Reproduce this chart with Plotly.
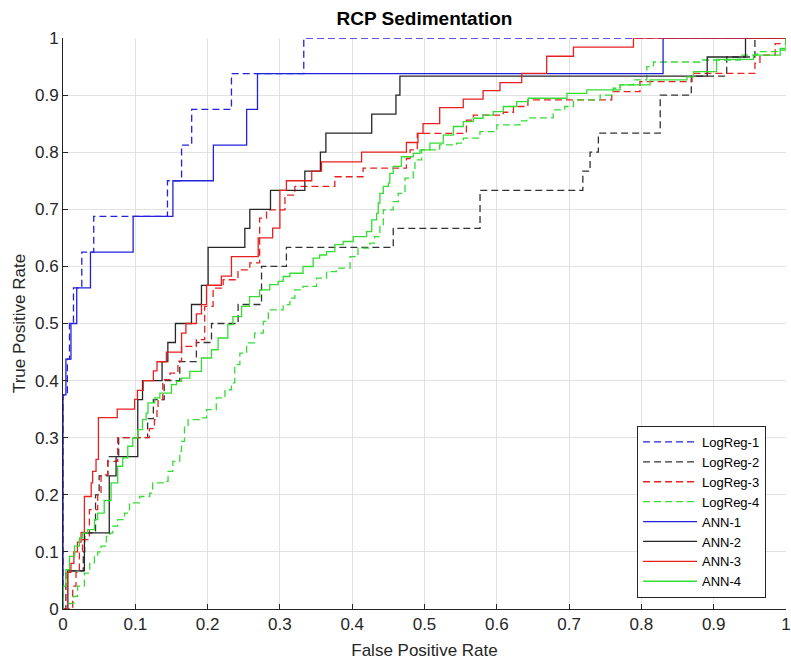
import plotly.graph_objects as go

# ---- data: ROC points (FPR, TPR), drawn as right-then-up staircases ----
logreg1_fpr = [0, 0, 0.006, 0.009, 0.0145, 0.026, 0.0425, 0.1445, 0.164, 0.178, 0.233, 0.333, 1]
logreg1_tpr = [0, 0.375, 0.4375, 0.5, 0.5625, 0.625, 0.6875, 0.75, 0.8125, 0.875, 0.9375, 1, 1]

logreg2_fpr = [0, 0.004, 0.028, 0.03, 0.045, 0.05, 0.062, 0.077, 0.117, 0.125, 0.14, 0.1615,
               0.1845, 0.2054, 0.2422, 0.2746, 0.309, 0.4568, 0.5768, 0.719, 0.729, 0.7405,
               0.826, 0.869, 0.918, 0.957, 1]
logreg2_tpr = [0, 0.0667, 0.1, 0.1333, 0.2, 0.2333, 0.2667, 0.3, 0.3333, 0.3667, 0.4, 0.4333,
               0.4667, 0.5, 0.5333, 0.6, 0.6333, 0.6667, 0.7333, 0.7667, 0.8, 0.8333,
               0.9, 0.9333, 0.9667, 1, 1]

logreg3_fpr = [0, 0.0134, 0.018, 0.0227, 0.027, 0.0365, 0.048, 0.0526, 0.062, 0.0757,
               0.1195, 0.1265, 0.13, 0.1315, 0.138, 0.148, 0.159, 0.164, 0.1845, 0.196,
               0.2076, 0.2215, 0.242, 0.2584, 0.272, 0.2815, 0.307, 0.3207, 0.376, 0.415,
               0.475, 0.48, 0.49, 0.558, 0.5675, 0.609, 0.623, 0.643, 0.759, 0.798,
               0.87, 0.957, 0.964, 0.985, 1]
logreg3_tpr = [0, 0.04, 0.064, 0.098, 0.1216, 0.174, 0.203, 0.235, 0.2586, 0.3,
               0.316, 0.3316, 0.349, 0.3666, 0.4016, 0.413, 0.434, 0.46, 0.4716, 0.53,
               0.562, 0.5766, 0.594, 0.606, 0.6845, 0.699, 0.725, 0.74, 0.757, 0.772,
               0.789, 0.804, 0.833, 0.856, 0.865, 0.87, 0.88, 0.8915, 0.906, 0.9236,
               0.938, 0.956, 0.97, 0.99, 1]

logreg4_fpr = [0, 0.003, 0.009, 0.015, 0.0203, 0.0296, 0.037, 0.0435, 0.048, 0.0526,
               0.06, 0.065, 0.0688, 0.0757, 0.085, 0.092, 0.106, 0.12, 0.124, 0.1408,
               0.1453, 0.152, 0.1615, 0.1639, 0.168, 0.173, 0.189, 0.1985, 0.212, 0.224,
               0.233, 0.2376, 0.2446, 0.254, 0.265, 0.277, 0.284, 0.3045, 0.3138, 0.3207,
               0.332, 0.3507, 0.3646, 0.378, 0.397, 0.408, 0.4245, 0.431, 0.4383, 0.443,
               0.4567, 0.4637, 0.473, 0.4844, 0.4868, 0.496, 0.521, 0.5445, 0.5536, 0.5767,
               0.6, 0.632, 0.6414, 0.678, 0.694, 0.706, 0.743, 0.761, 0.7705, 0.789,
               0.8075, 0.8166, 0.881, 0.9366, 0.96, 0.992, 1]
logreg4_tpr = [0, 0, 0.01, 0.022, 0.04, 0.063, 0.081, 0.092, 0.1, 0.11,
               0.127, 0.133, 0.145, 0.1566, 0.168, 0.186, 0.197, 0.203, 0.221, 0.2236,
               0.241, 0.2586, 0.276, 0.2936, 0.32, 0.3316, 0.3346, 0.349, 0.3696, 0.384,
               0.396, 0.428, 0.448, 0.466, 0.483, 0.5036, 0.524, 0.533, 0.5446, 0.559,
               0.565, 0.5795, 0.591, 0.597, 0.617, 0.632, 0.6407, 0.652, 0.67, 0.699,
               0.7136, 0.728, 0.7545, 0.769, 0.7865, 0.804, 0.8128, 0.8158, 0.8245, 0.836,
               0.8478, 0.855, 0.86, 0.874, 0.88, 0.8915, 0.9, 0.912, 0.918, 0.9265,
               0.95, 0.958, 0.9615, 0.97, 0.976, 0.982, 1]

ann1_fpr = [0, 0, 0.004, 0.011, 0.019, 0.038, 0.097, 0.152, 0.208, 0.254, 0.269, 0.83, 1]
ann1_tpr = [0, 0.375, 0.4375, 0.5, 0.5625, 0.625, 0.6875, 0.75, 0.8125, 0.875, 0.9375, 1, 1]

ann2_fpr = [0, 0.0065, 0.0296, 0.064, 0.0734, 0.1034, 0.11, 0.137, 0.145, 0.1555, 0.1777,
            0.1915, 0.2007, 0.2515, 0.2584, 0.287, 0.3345, 0.356, 0.3636, 0.427, 0.4605,
            0.466, 0.891, 0.944, 1]
ann2_tpr = [0, 0.0667, 0.1333, 0.2333, 0.2667, 0.3667, 0.4, 0.4333, 0.4667, 0.5, 0.5333,
            0.5667, 0.6333, 0.6667, 0.7, 0.7333, 0.7667, 0.8, 0.8333, 0.8667, 0.9,
            0.9333, 0.9667, 1, 1]

ann3_fpr = [0, 0.0065, 0.011, 0.015, 0.02, 0.025, 0.0296, 0.039, 0.041, 0.0457,
            0.049, 0.075, 0.099, 0.103, 0.111, 0.125, 0.13, 0.143, 0.164, 0.17,
            0.1845, 0.1915, 0.1985, 0.219, 0.233, 0.27, 0.29, 0.3, 0.309, 0.344,
            0.3576, 0.413, 0.475, 0.491, 0.498, 0.521, 0.5536, 0.581, 0.6044, 0.6345,
            0.669, 0.706, 0.789, 1]
ann3_tpr = [0, 0.064, 0.08, 0.1, 0.117, 0.134, 0.197, 0.221, 0.241, 0.262,
            0.335, 0.35, 0.367, 0.383, 0.4, 0.417, 0.433, 0.45, 0.483, 0.5,
            0.517, 0.533, 0.567, 0.583, 0.617, 0.65, 0.667, 0.733, 0.75, 0.767,
            0.783, 0.8, 0.817, 0.833, 0.85, 0.878, 0.893, 0.908, 0.922, 0.938,
            0.968, 0.984, 1, 1]

ann4_fpr = [0, 0, 0.004, 0.009, 0.016, 0.0227, 0.027, 0.034, 0.0435, 0.048,
            0.057, 0.0665, 0.0757, 0.0826, 0.0896, 0.0965, 0.1034, 0.11, 0.115, 0.1176,
            0.127, 0.134, 0.15, 0.157, 0.164, 0.1754, 0.1915, 0.1915, 0.2054, 0.2145,
            0.228, 0.235, 0.247, 0.258, 0.272, 0.286, 0.2976, 0.3045, 0.3138, 0.332,
            0.346, 0.355, 0.3646, 0.376, 0.3875, 0.4014, 0.42, 0.427, 0.4338, 0.436,
            0.4383, 0.443, 0.45, 0.452, 0.4567, 0.468, 0.4844, 0.4937, 0.5075, 0.526,
            0.54, 0.5536, 0.5675, 0.581, 0.595, 0.609, 0.6275, 0.6436, 0.697, 0.7245,
            0.7705, 0.812, 0.863, 0.872, 0.904, 0.955, 0.992, 1]
ann4_tpr = [0, 0.04, 0.069, 0.092, 0.11, 0.1246, 0.133, 0.139, 0.1566, 0.168,
            0.19, 0.221, 0.25, 0.2646, 0.285, 0.2995, 0.314, 0.3316, 0.343, 0.361,
            0.3696, 0.378, 0.393, 0.3986, 0.4045, 0.416, 0.422, 0.4396, 0.454, 0.4746,
            0.498, 0.512, 0.53, 0.547, 0.559, 0.568, 0.5736, 0.5823, 0.588, 0.5998,
            0.6145, 0.62, 0.626, 0.638, 0.6436, 0.652, 0.661, 0.6815, 0.693, 0.711,
            0.728, 0.74, 0.7458, 0.763, 0.775, 0.792, 0.798, 0.804, 0.8158, 0.83,
            0.845, 0.8536, 0.8595, 0.865, 0.871, 0.88, 0.8886, 0.8945, 0.903, 0.909,
            0.918, 0.9265, 0.932, 0.941, 0.9627, 0.97, 0.979, 1]

series_names = ["LogReg-1", "LogReg-2", "LogReg-3", "LogReg-4", "ANN-1", "ANN-2", "ANN-3", "ANN-4"]
series_data = [(logreg1_fpr, logreg1_tpr), (logreg2_fpr, logreg2_tpr),
               (logreg3_fpr, logreg3_tpr), (logreg4_fpr, logreg4_tpr),
               (ann1_fpr, ann1_tpr), (ann2_fpr, ann2_tpr),
               (ann3_fpr, ann3_tpr), (ann4_fpr, ann4_tpr)]
series_colors = ["#2222dd", "#333333", "#e82020", "#33dd33",
                 "#2222dd", "#262626", "#e82020", "#33dd33"]
series_dash = ["7px,4px"] * 4 + ["solid"] * 4

x_ticks = [0, 0.1, 0.2, 0.3, 0.4, 0.5, 0.6, 0.7, 0.8, 0.9, 1]
x_tick_labels = ["0", "0.1", "0.2", "0.3", "0.4", "0.5", "0.6", "0.7", "0.8", "0.9", "1"]

fig = go.Figure()
for name, (fx, ty), col, dsh in zip(series_names, series_data, series_colors, series_dash):
    fig.add_trace(go.Scatter(
        x=fx, y=ty, mode="lines", name=name, line_shape="hv",
        line=dict(color=col, width=1.3, dash=dsh),
    ))

FONT = "Liberation Sans, Arial, Helvetica, sans-serif"
axis_common = dict(
    range=[0, 1], tickvals=x_ticks, ticktext=x_tick_labels,
    showgrid=True, gridcolor="#e2e2e2", gridwidth=1,
    showline=True, linecolor="#262626", linewidth=1, mirror=False,
    ticks="inside", ticklen=5, tickcolor="#262626", tickwidth=1,
    zeroline=False, automargin=False,
    tickfont=dict(family=FONT, size=17, color="#262626"),
)
fig.update_layout(
    width=791, height=661,
    margin=dict(l=63, r=5, t=38, b=52, autoexpand=False),
    paper_bgcolor="white", plot_bgcolor="white",
    font=dict(family=FONT, color="#262626"),
    title=dict(text="<b>RCP Sedimentation</b>", x=0.5, xref="paper", xanchor="center",
               y=1 - 18 / 661, yref="container", yanchor="middle",
               font=dict(family=FONT, size=19, color="#000000")),
    xaxis=dict(title=dict(text="False Positive Rate", font=dict(family=FONT, size=17), standoff=10),
               **axis_common),
    yaxis=dict(title=dict(text="True Positive Rate", font=dict(family=FONT, size=17), standoff=5),
               **axis_common),
    legend=dict(x=0.794, y=0.3205, xanchor="left", yanchor="top",
                bordercolor="#262626", borderwidth=1, bgcolor="white",
                font=dict(family=FONT, size=13, color="#000000"),
                tracegroupgap=0, itemwidth=54),
    showlegend=True,
)
fig.write_html("out.html")
